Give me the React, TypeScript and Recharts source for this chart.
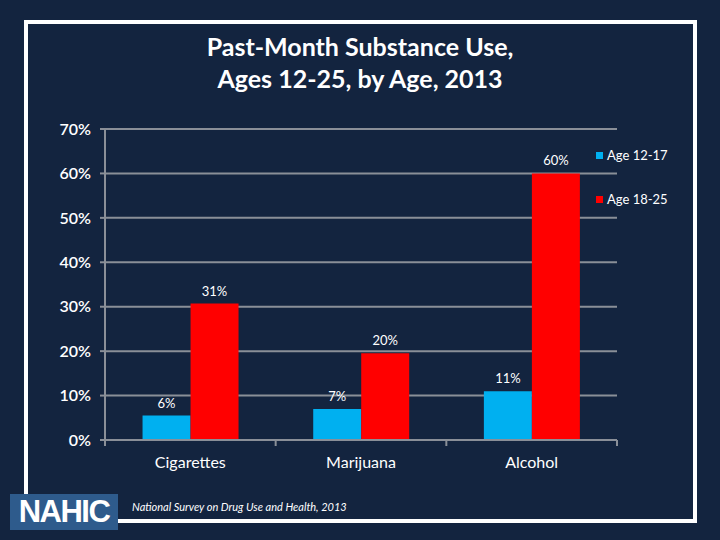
import { BarChart, Bar, XAxis, YAxis, CartesianGrid, LabelList } from "recharts";

const categories = ["Cigarettes", "Marijuana", "Alcohol"];
const age12to17 = [5.5, 7.0, 11.0];
const age18to25 = [30.7, 19.5, 60.0];
const age12to17Labels = ["6%", "7%", "11%"];
const age18to25Labels = ["31%", "20%", "60%"];
const seriesNames = ["Age 12-17", "Age 18-25"];
const seriesColors = ["#00b0f0", "#ff0000"];
const yTicks = [0, 10, 20, 30, 40, 50, 60, 70];

const data = categories.map((name, i) => ({
  name,
  young: age12to17[i],
  older: age18to25[i],
  youngLabel: age12to17Labels[i],
  olderLabel: age18to25Labels[i],
}));

const BG = "#13243f";
const GRID = "#8a8f98";
const FONT = "Lato, 'Open Sans', sans-serif";

function CategoryTick(props: any) {
  const { x, y, payload, index } = props;
  const half = payload?.offset ?? 0;
  const axisY = y - 6 - 12;
  return (
    <g>
      <line x1={x - half} x2={x - half} y1={axisY} y2={axisY + 6} stroke={GRID} strokeWidth={2} />
      {index === categories.length - 1 && (
        <line x1={x + half} x2={x + half} y1={axisY} y2={axisY + 6} stroke={GRID} strokeWidth={2} />
      )}
      <text x={x} y={y} dy={10} textAnchor="middle" fill="#fff" fontSize={16} fontFamily={FONT}>
        {payload.value}
      </text>
    </g>
  );
}

export default function App() {
  return (
    <div style={{ position: "absolute", left: 0, top: 0, width: 720, height: 540, background: BG, overflow: "hidden" }}>
      <div
        style={{
          position: "absolute",
          left: 24,
          top: 20,
          width: 673,
          height: 503,
          border: "4px solid #fff",
          boxSizing: "border-box",
        }}
      />
      <div
        style={{
          position: "absolute",
          left: 0,
          top: 30,
          width: 720,
          textAlign: "center",
          color: "#fff",
          fontFamily: FONT,
          fontWeight: 700,
          fontSize: 25,
          lineHeight: "32px",
        }}
      >
        Past-Month Substance Use,
        <br />
        Ages 12-25, by Age, 2013
      </div>
      <div style={{ position: "absolute", left: 0, top: 0 }}>
        <BarChart
          width={720}
          height={540}
          data={data}
          margin={{ top: 129, right: 103, bottom: 70, left: 0 }}
          barGap={0}
          barCategoryGap="22%"
        >
          <CartesianGrid vertical={false} stroke={GRID} strokeWidth={2} />
          <XAxis
            dataKey="name"
            height={30}
            stroke={GRID}
            strokeWidth={2}
            tickLine={false}
            tickSize={6}
            tickMargin={12}
            tick={<CategoryTick />}
            interval={0}
          />
          <YAxis
            width={105}
            domain={[0, 70]}
            ticks={yTicks}
            stroke={GRID}
            strokeWidth={2}
            tickSize={5}
            tickMargin={9}
            tickFormatter={(v) => `${v}%`}
            tick={{ fill: "#fff", fontSize: 16, fontFamily: FONT, fontWeight: 600 }}
          />
          <Bar dataKey="young" name={seriesNames[0]} fill={seriesColors[0]} isAnimationActive={false}>
            <LabelList dataKey="youngLabel" position="top" offset={8} fill="#fff" fontSize={13} fontFamily={FONT} />
          </Bar>
          <Bar dataKey="older" name={seriesNames[1]} fill={seriesColors[1]} isAnimationActive={false}>
            <LabelList dataKey="olderLabel" position="top" offset={8} fill="#fff" fontSize={13} fontFamily={FONT} />
          </Bar>
        </BarChart>
      </div>
      <div style={{ position: "absolute", left: 596, top: 144, fontFamily: FONT, fontSize: 13, color: "#fff" }}>
        {seriesNames.map((label, i) => (
          <div key={label} style={{ display: "flex", alignItems: "center", height: 22, marginBottom: 22 }}>
            <span style={{ width: 7, height: 7, background: seriesColors[i], marginRight: 4, display: "inline-block" }} />
            {label}
          </div>
        ))}
      </div>
      <div
        style={{
          position: "absolute",
          left: 10,
          top: 494,
          width: 108,
          height: 36,
          background: "#2e5b8c",
          color: "#fff",
          fontFamily: "'Liberation Sans', Arial, sans-serif",
          fontWeight: 700,
          fontSize: 31,
          lineHeight: "36px",
          textAlign: "center",
          letterSpacing: -1.5,
        }}
      >
        NAHIC
      </div>
      <div
        style={{
          position: "absolute",
          left: 132,
          top: 500,
          color: "#fff",
          fontFamily: FONT,
          fontStyle: "italic",
          fontSize: 11,
        }}
      >
        National Survey on Drug Use and Health, 2013
      </div>
    </div>
  );
}
